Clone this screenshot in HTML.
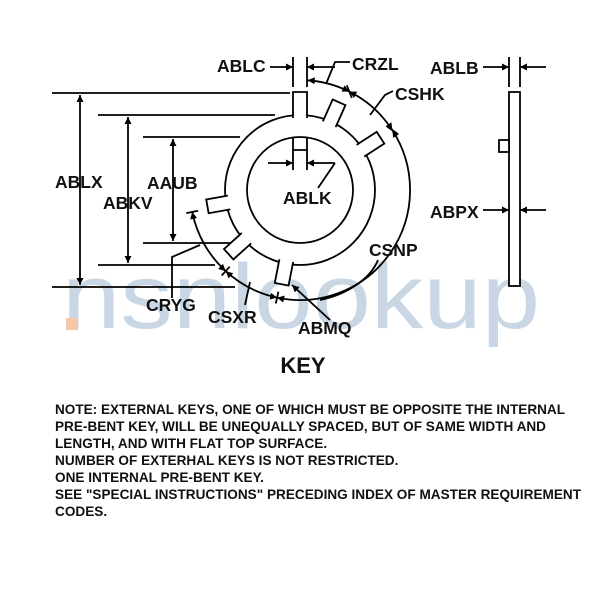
<!DOCTYPE html>
<html><head><style>
html,body{margin:0;padding:0;background:#fff;}
svg{display:block;}
text{font-family:"Liberation Sans",Arial,sans-serif;font-weight:bold;fill:#111;}
</style></head><body>
<svg width="600" height="600" viewBox="0 0 600 600" xmlns="http://www.w3.org/2000/svg">
<defs>
<marker id="a" viewBox="0 0 10 10" refX="10" refY="5" markerWidth="13" markerHeight="7" markerUnits="userSpaceOnUse" orient="auto-start-reverse">
<path d="M0,0 L10,5 L0,10 z" fill="#000"/></marker>
</defs>
<!-- watermark -->
<text x="62" y="328" font-size="92" textLength="478" lengthAdjust="spacingAndGlyphs" style="font-weight:normal;fill:#c9d7e5">nsnlookup</text>
<rect x="66" y="318" width="12" height="12" fill="#f5c9a8"/>
<g stroke="#000" stroke-width="1.8" fill="none">
<path d="M52,93H290 M52,287H235 M98,115H275 M98,265H215 M143,137H240 M143,243H232"/>
<path d="M80,95V285" marker-start="url(#a)" marker-end="url(#a)"/>
<path d="M128,117V263" marker-start="url(#a)" marker-end="url(#a)"/>
<path d="M173,139V241" marker-start="url(#a)" marker-end="url(#a)"/>
<circle cx="300" cy="190" r="75" fill="#fff"/>
<circle cx="300" cy="190" r="53"/>
</g>
<g stroke="#000" stroke-width="1.8">
<g transform="rotate(0 300 190)"><rect x="293" y="92" width="14" height="26" fill="#fff" stroke="none"/><path d="M293,118V92H307V118" fill="none"/></g>
<g transform="rotate(24 300 190)"><rect x="293" y="94" width="14" height="24" fill="#fff" stroke="none"/><path d="M293,118V94H307V118" fill="none"/></g>
<g transform="rotate(57 300 190)"><rect x="293" y="94" width="14" height="24" fill="#fff" stroke="none"/><path d="M293,118V94H307V118" fill="none"/></g>
<g transform="rotate(260 300 190)"><rect x="293" y="96" width="14" height="22" fill="#fff" stroke="none"/><path d="M293,118V96H307V118" fill="none"/></g>
<g transform="rotate(228 300 190)"><rect x="293" y="94" width="14" height="24" fill="#fff" stroke="none"/><path d="M293,118V94H307V118" fill="none"/></g>
<g transform="rotate(191 300 190)"><rect x="293" y="94" width="14" height="24" fill="#fff" stroke="none"/><path d="M293,118V94H307V118" fill="none"/></g>
</g>
<g stroke="#000" stroke-width="1.8" fill="none">
<path d="M293,137V170 M307,137V170 M293,150H307"/>
<path d="M268,163H293" marker-end="url(#a)"/>
<path d="M335,163H307" marker-end="url(#a)"/>
<path d="M335,163L318,188"/>
<path d="M293,57V87 M307,57V87"/>
<path d="M270,67H293" marker-end="url(#a)"/>
<path d="M335,67H307" marker-end="url(#a)"/>
<path d="M350,62H335L326,84"/>
<path d="M307.7,80.3 A110,110 0 0 1 349.3,91.6" marker-start="url(#a)" marker-end="url(#a)"/>
<path d="M349.3,91.6 A110,110 0 0 1 392.3,130.1" marker-start="url(#a)" marker-end="url(#a)"/>
<path d="M392.3,130.1 A110,110 0 0 1 277.1,297.6" marker-start="url(#a)" marker-end="url(#a)"/>
<path d="M277.1,297.6 A110,110 0 0 1 225.7,271.1" marker-start="url(#a)" marker-end="url(#a)"/>
<path d="M225.7,271.1 A110,110 0 0 1 192.2,211.9" marker-start="url(#a)" marker-end="url(#a)"/>
<path d="M346.8,85.3L351.8,97.9 M387,126.5L397.6,133.7 M278.4,291.7L275.8,303.5 M229.7,266.7L221.7,275.5 M198.1,210.7L186.3,213.1"/>
<path d="M393,91L385,95L370,115"/>
<path d="M378,260C370,280 345,295 320,300"/>
<path d="M330,320L292,285" marker-end="url(#a)"/>
<path d="M172,298V257L200,245"/>
<path d="M245,305L250,282"/>
<rect x="509" y="92" width="11" height="194" fill="#fff"/>
<rect x="499" y="140" width="10" height="12" fill="#fff"/>
<path d="M509,57V87 M520,57V87"/>
<path d="M483,67H509" marker-end="url(#a)"/>
<path d="M546,67H520" marker-end="url(#a)"/>
<path d="M483,210H509" marker-end="url(#a)"/>
<path d="M546,210H520" marker-end="url(#a)"/>
</g>
<g font-size="17.5">
<text x="217" y="72">ABLC</text>
<text x="352" y="70">CRZL</text>
<text x="395" y="100">CSHK</text>
<text x="430" y="74">ABLB</text>
<text x="430" y="218">ABPX</text>
<text x="55" y="188">ABLX</text>
<text x="103" y="209">ABKV</text>
<text x="147" y="189">AAUB</text>
<text x="283" y="204">ABLK</text>
<text x="369" y="256">CSNP</text>
<text x="146" y="311">CRYG</text>
<text x="208" y="323">CSXR</text>
<text x="298" y="334">ABMQ</text>
</g>
<text x="303" y="373" font-size="22" text-anchor="middle">KEY</text>
<g font-size="13.6">
<text x="55" y="414" textLength="510" lengthAdjust="spacingAndGlyphs">NOTE: EXTERNAL KEYS, ONE OF WHICH MUST BE OPPOSITE THE INTERNAL</text>
<text x="55" y="431" textLength="491" lengthAdjust="spacingAndGlyphs">PRE-BENT KEY, WILL BE UNEQUALLY SPACED, BUT OF SAME WIDTH AND</text>
<text x="55" y="448">LENGTH, AND WITH FLAT TOP SURFACE.</text>
<text x="55" y="465">NUMBER OF EXTERHAL KEYS IS NOT RESTRICTED.</text>
<text x="55" y="482">ONE INTERNAL PRE-BENT KEY.</text>
<text x="55" y="499" textLength="526" lengthAdjust="spacingAndGlyphs">SEE "SPECIAL INSTRUCTIONS" PRECEDING INDEX OF MASTER REQUIREMENT</text>
<text x="55" y="516">CODES.</text>
</g>
</svg>
</body></html>
